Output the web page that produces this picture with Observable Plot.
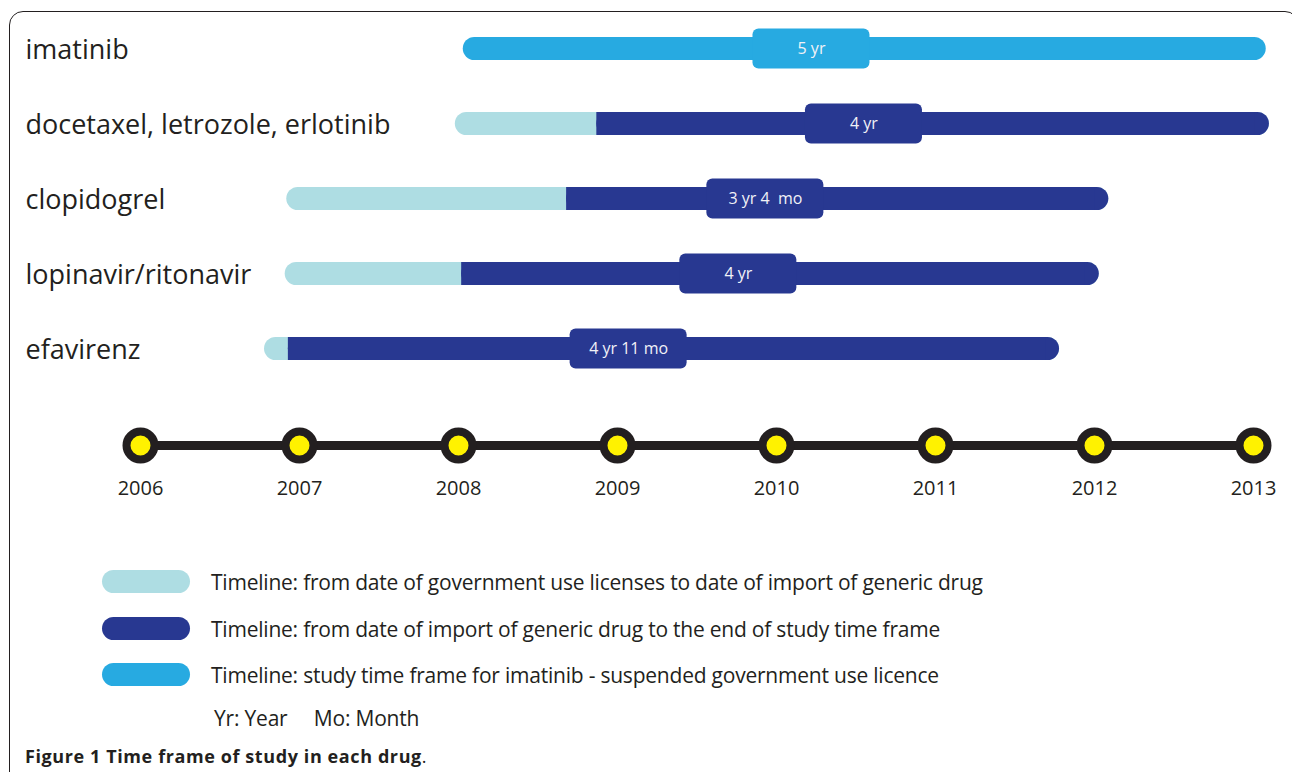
<!DOCTYPE html>
<html>
<head>
<meta charset="utf-8">
<script src="https://cdn.jsdelivr.net/npm/d3@7"></script>
<script src="https://cdn.jsdelivr.net/npm/@observablehq/plot@0.6"></script>
<style>
  html, body { margin: 0; padding: 0; background: #fff; }
  #page { position: relative; width: 1292px; height: 772px; overflow: hidden; font-family: "Open Sans", Lato, sans-serif; color: #231F20; font-variant-ligatures: none; }
  #frame { position: absolute; left: 9px; top: 11px; width: 1290px; height: 800px; border: 1.6px solid #231F20; border-radius: 14px; box-sizing: border-box; pointer-events: none; }
  #chart { position: absolute; left: 0; top: 0; }
  #chart svg text { font-variant-ligatures: none; }
  #legend { position: absolute; left: 0; top: 520px; width: 1292px; }
  .row { position: absolute; left: 102px; height: 23px; display: flex; align-items: center; }
  .sw { width: 88px; height: 23px; border-radius: 11.5px; }
  .lt { position: absolute; left: 109px; white-space: nowrap; font-size: 21px; letter-spacing: -0.22px; }
  #abbr { position: absolute; left: 214px; top: 184px; font-size: 21px; letter-spacing: -0.2px; white-space: nowrap; }
  #caption { position: absolute; left: 25px; top: 224px; font-size: 18px; white-space: nowrap; letter-spacing: 0.6px; }
  #caption b { font-weight: 700; }
</style>
</head>
<body>
<div id="page">
  <div id="chart"></div>
  <div id="legend"></div>
  <div id="frame"></div>
</div>
<script>
// ---- data ----
const years = [2006, 2007, 2008, 2009, 2010, 2011, 2012, 2013];
const drugs = ["imatinib", "docetaxel, letrozole, erlotinib", "clopidogrel", "lopinavir/ritonavir", "efavirenz"];
const startDate = [2008.03, 2007.98, 2006.92, 2006.91, 2006.78];
const importDate = [null, 2008.87, 2008.68, 2008.02, 2006.93];
const endDate = [2013.08, 2013.10, 2012.09, 2012.03, 2011.78];
const durationLabel = ["5 yr", "4 yr", "3 yr 4  mo", "4 yr", "4 yr 11 mo"];
const labelAt = [2010.22, 2010.55, 2009.93, 2009.76, 2009.07];
const legendLabels = [
  "Timeline: from date of government use licenses to date of import of generic drug",
  "Timeline: from date of import of generic drug to the end of study time frame",
  "Timeline: study time frame for imatinib - suspended government use licence"
];
const colors = { licence: "#AEDDE3", generic: "#283891", imatinib: "#27AAE1", dot: "#FFF200", ink: "#231F20" };

// ---- table ----
const rows = drugs.map((drug, i) => ({
  drug, start: startDate[i], import: importDate[i], end: endDate[i],
  label: durationLabel[i], at: labelAt[i], suspended: importDate[i] == null
}));
const licensed = rows.filter(d => !d.suspended);
const suspended = rows.filter(d => d.suspended);

const r = 11.5;
const chart = Plot.plot({
  width: 1292,
  height: 520,
  marginLeft: 140,
  marginRight: 39,
  marginTop: 0,
  marginBottom: 75,
  style: { fontFamily: "'Open Sans', Lato, sans-serif", color: colors.ink, background: "transparent", overflow: "visible" },
  x: { domain: [2006, 2013] },
  y: { type: "band", domain: drugs, range: [10.4, 386.6], paddingInner: 0.693, paddingOuter: 0.3465 },
  marks: [
    Plot.axisY({ tickSize: 0, tickPadding: 115, textAnchor: "start", fontSize: 27, dy: 1, label: null }),
    Plot.axisX({ ticks: years, tickFormat: "d", tickSize: 0, tickPadding: 35, fontSize: 20, label: null }),
    Plot.frame({ anchor: "bottom", stroke: colors.ink, strokeWidth: 9 }),
    Plot.dot(years, { x: d => d, frameAnchor: "bottom", r: 14, fill: colors.dot, stroke: colors.ink, strokeWidth: 8 }),
    Plot.barX(licensed, { y: "drug", x1: "start", x2: "end", fill: colors.licence, rx: r }),
    Plot.barX(licensed, { y: "drug", x1: "import", x2: "end", fill: colors.generic, rx: r }),
    Plot.barX(licensed, { y: "drug", x1: "import", x2: "end", fill: colors.generic, insetRight: 14 }),
    Plot.barX(suspended, { y: "drug", x1: "start", x2: "end", fill: colors.imatinib, rx: r }),
    Plot.barX(rows, { y: "drug", x1: "at", x2: "at", insetLeft: -58.5, insetRight: -58.5, insetTop: -8.5, insetBottom: -8.5, rx: 6,
      fill: d => d.suspended ? colors.imatinib : colors.generic }),
    Plot.text(rows, { y: "drug", x: "at", text: "label", fill: "#F2F2F7", fontSize: 16 })
  ]
});
document.getElementById("chart").appendChild(chart);

// ---- legend ----
const legend = document.getElementById("legend");
const swColors = [colors.licence, colors.generic, colors.imatinib];
const rowTops = [50, 97, 143];
legendLabels.forEach((t, i) => {
  const row = document.createElement("div");
  row.className = "row";
  row.style.top = rowTops[i] + "px";
  row.innerHTML = `<div class="sw" style="background:${swColors[i]}"></div><div class="lt">${t}</div>`;
  legend.appendChild(row);
});
const abbr = document.createElement("div");
abbr.id = "abbr";
abbr.innerHTML = "Yr: Year&nbsp;&nbsp;&nbsp;&nbsp; Mo: Month";
legend.appendChild(abbr);
const cap = document.createElement("div");
cap.id = "caption";
cap.innerHTML = "<b>Figure 1 Time frame of study in each drug</b>.";
legend.appendChild(cap);
</script>
</body>
</html>
